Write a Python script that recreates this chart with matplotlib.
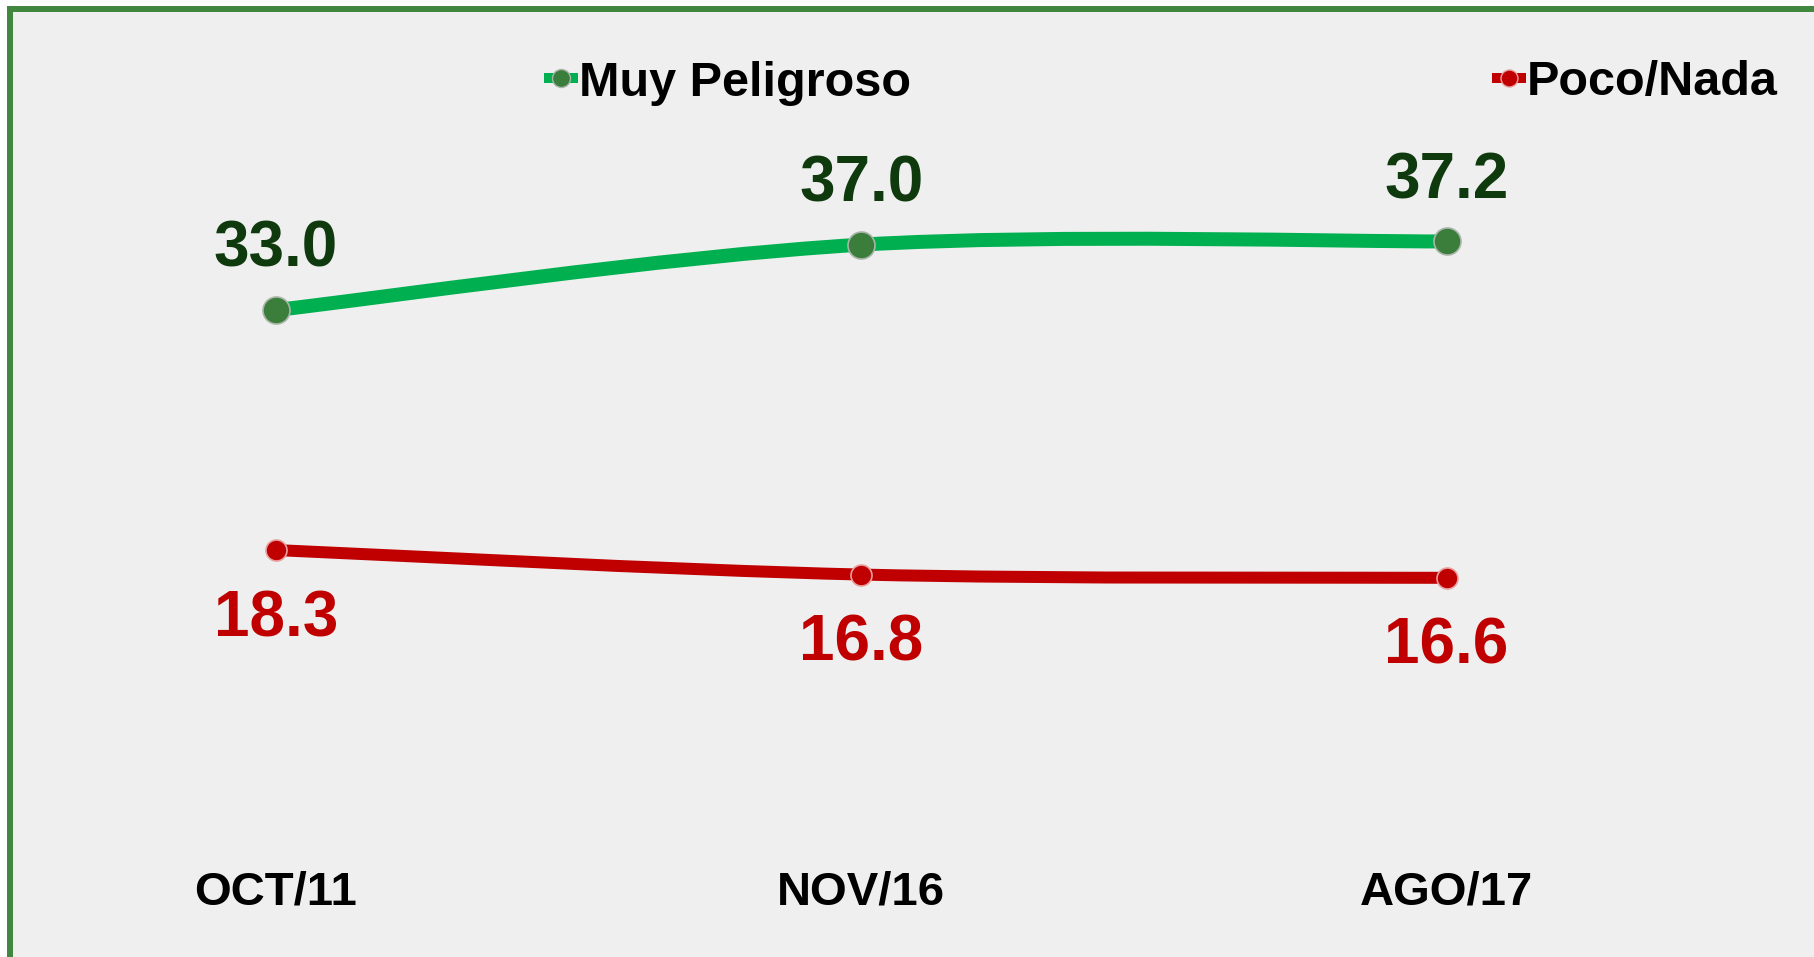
import matplotlib
matplotlib.use("Agg")
import matplotlib.pyplot as plt
from matplotlib.patches import Rectangle, PathPatch
from matplotlib.path import Path
from matplotlib.lines import Line2D
import numpy as np

# ---- data ----
categories = ["OCT/11", "NOV/16", "AGO/17"]
muy_peligroso = [33.0, 37.0, 37.2]
poco_nada = [18.3, 16.8, 16.6]
series_names = ["Muy Peligroso", "Poco/Nada"]

# ---- style ----
W, H, DPI = 1814, 957, 100
BG = "#EFEFEF"
FRAME = "#41873F"
GREEN_LINE = "#00B050"
GREEN_MARK = "#3B7D3A"
GREEN_LABEL = "#0E3A0E"
RED = "#C00000"
FONT = ["Liberation Sans", "DejaVu Sans"]
plt.rcParams["font.family"] = FONT


def px(v):
    return v * 72.0 / DPI


fig = plt.figure(figsize=(W / DPI, H / DPI), dpi=DPI, facecolor="white")

# background panel and green frame (top + left)
fig.add_artist(Rectangle((7 / W, 0), 1 - 7 / W, 1 - 6 / H, transform=fig.transFigure,
                         facecolor=BG, edgecolor="none", zorder=0))
fig.add_artist(Rectangle((7 / W, 1 - 12 / H), 1 - 7 / W, 6 / H, transform=fig.transFigure,
                         facecolor=FRAME, edgecolor="none", zorder=1))
fig.add_artist(Rectangle((7 / W, 0), 6 / W, 1 - 6 / H, transform=fig.transFigure,
                         facecolor=FRAME, edgecolor="none", zorder=1))

ax = fig.add_axes([0, (H - 848.9) / H, 1, 849.2 / H])
ax.set_facecolor("none")
ax.set_xlim(-0.4716, 2.6277)
ax.set_ylim(0, 52)
for s in ax.spines.values():
    s.set_visible(False)
ax.set_yticks([])
x = np.arange(len(categories))
ax.set_xticks(x)
ax.set_xticklabels(categories, fontsize=34, fontweight="bold", color="black")
ax.tick_params(axis="x", length=0, pad=15.5)


def smooth_path(xs, ys):
    pts = np.column_stack([xs, ys]).astype(float)
    n = len(pts)
    verts = [pts[0]]
    codes = [Path.MOVETO]
    for i in range(n - 1):
        p0 = pts[i - 1] if i > 0 else pts[i]
        p1 = pts[i]
        p2 = pts[i + 1]
        p3 = pts[i + 2] if i + 2 < n else pts[i + 1]
        c1 = p1 + (p2 - p0) / 6.0
        c2 = p2 - (p3 - p1) / 6.0
        verts += [c1, c2, p2]
        codes += [Path.CURVE4] * 3
    return Path(verts, codes)


# green series
ax.add_patch(PathPatch(smooth_path(x, muy_peligroso), facecolor="none",
                       edgecolor=GREEN_LINE, lw=px(14), capstyle="butt", zorder=3))
ax.plot(x, muy_peligroso, linestyle="none", marker="o", ms=px(27),
        mfc=GREEN_MARK, mec="#A9B5A9", mew=1.2, zorder=4)
# red series
ax.add_patch(PathPatch(smooth_path(x, poco_nada), facecolor="none",
                       edgecolor=RED, lw=px(12), capstyle="butt", zorder=3))
ax.plot(x, poco_nada, linestyle="none", marker="o", ms=px(21),
        mfc=RED, mec="#E8A0A0", mew=1.2, zorder=4)

# data labels
for xi, v in zip(x, muy_peligroso):
    ax.annotate(f"{v:.1f}", (xi, v), xytext=(0, px(43)), textcoords="offset points",
                ha="center", va="baseline", fontsize=46, fontweight="bold",
                color=GREEN_LABEL, zorder=5)
for xi, v in zip(x, poco_nada):
    ax.annotate(f"{v:.1f}", (xi, v), xytext=(0, -px(86)), textcoords="offset points",
                ha="center", va="baseline", fontsize=46, fontweight="bold",
                color=RED, zorder=5)

# legends (two separate entries)
h1 = Line2D([], [], color=GREEN_LINE, lw=px(10), marker="o", ms=px(18),
            mfc=GREEN_MARK, mec="#A9B5A9", mew=1)
h2 = Line2D([], [], color=RED, lw=px(10), marker="o", ms=px(17),
            mfc=RED, mec="#E8A0A0", mew=1)
common = dict(frameon=False, loc="center left", borderpad=0, borderaxespad=0,
              handlelength=0.5, handletextpad=0.12,
              prop={"size": 35, "weight": "bold", "family": FONT},
              bbox_transform=fig.transFigure)
leg1 = ax.legend([h1], [series_names[0]], bbox_to_anchor=(549 / W, 1 - 83 / H), **common)
ax.add_artist(leg1)
leg2 = ax.legend([h2], [series_names[1]], bbox_to_anchor=(1497 / W, 1 - 83 / H), **common)

fig.savefig("out.png", dpi=DPI, facecolor="white")
